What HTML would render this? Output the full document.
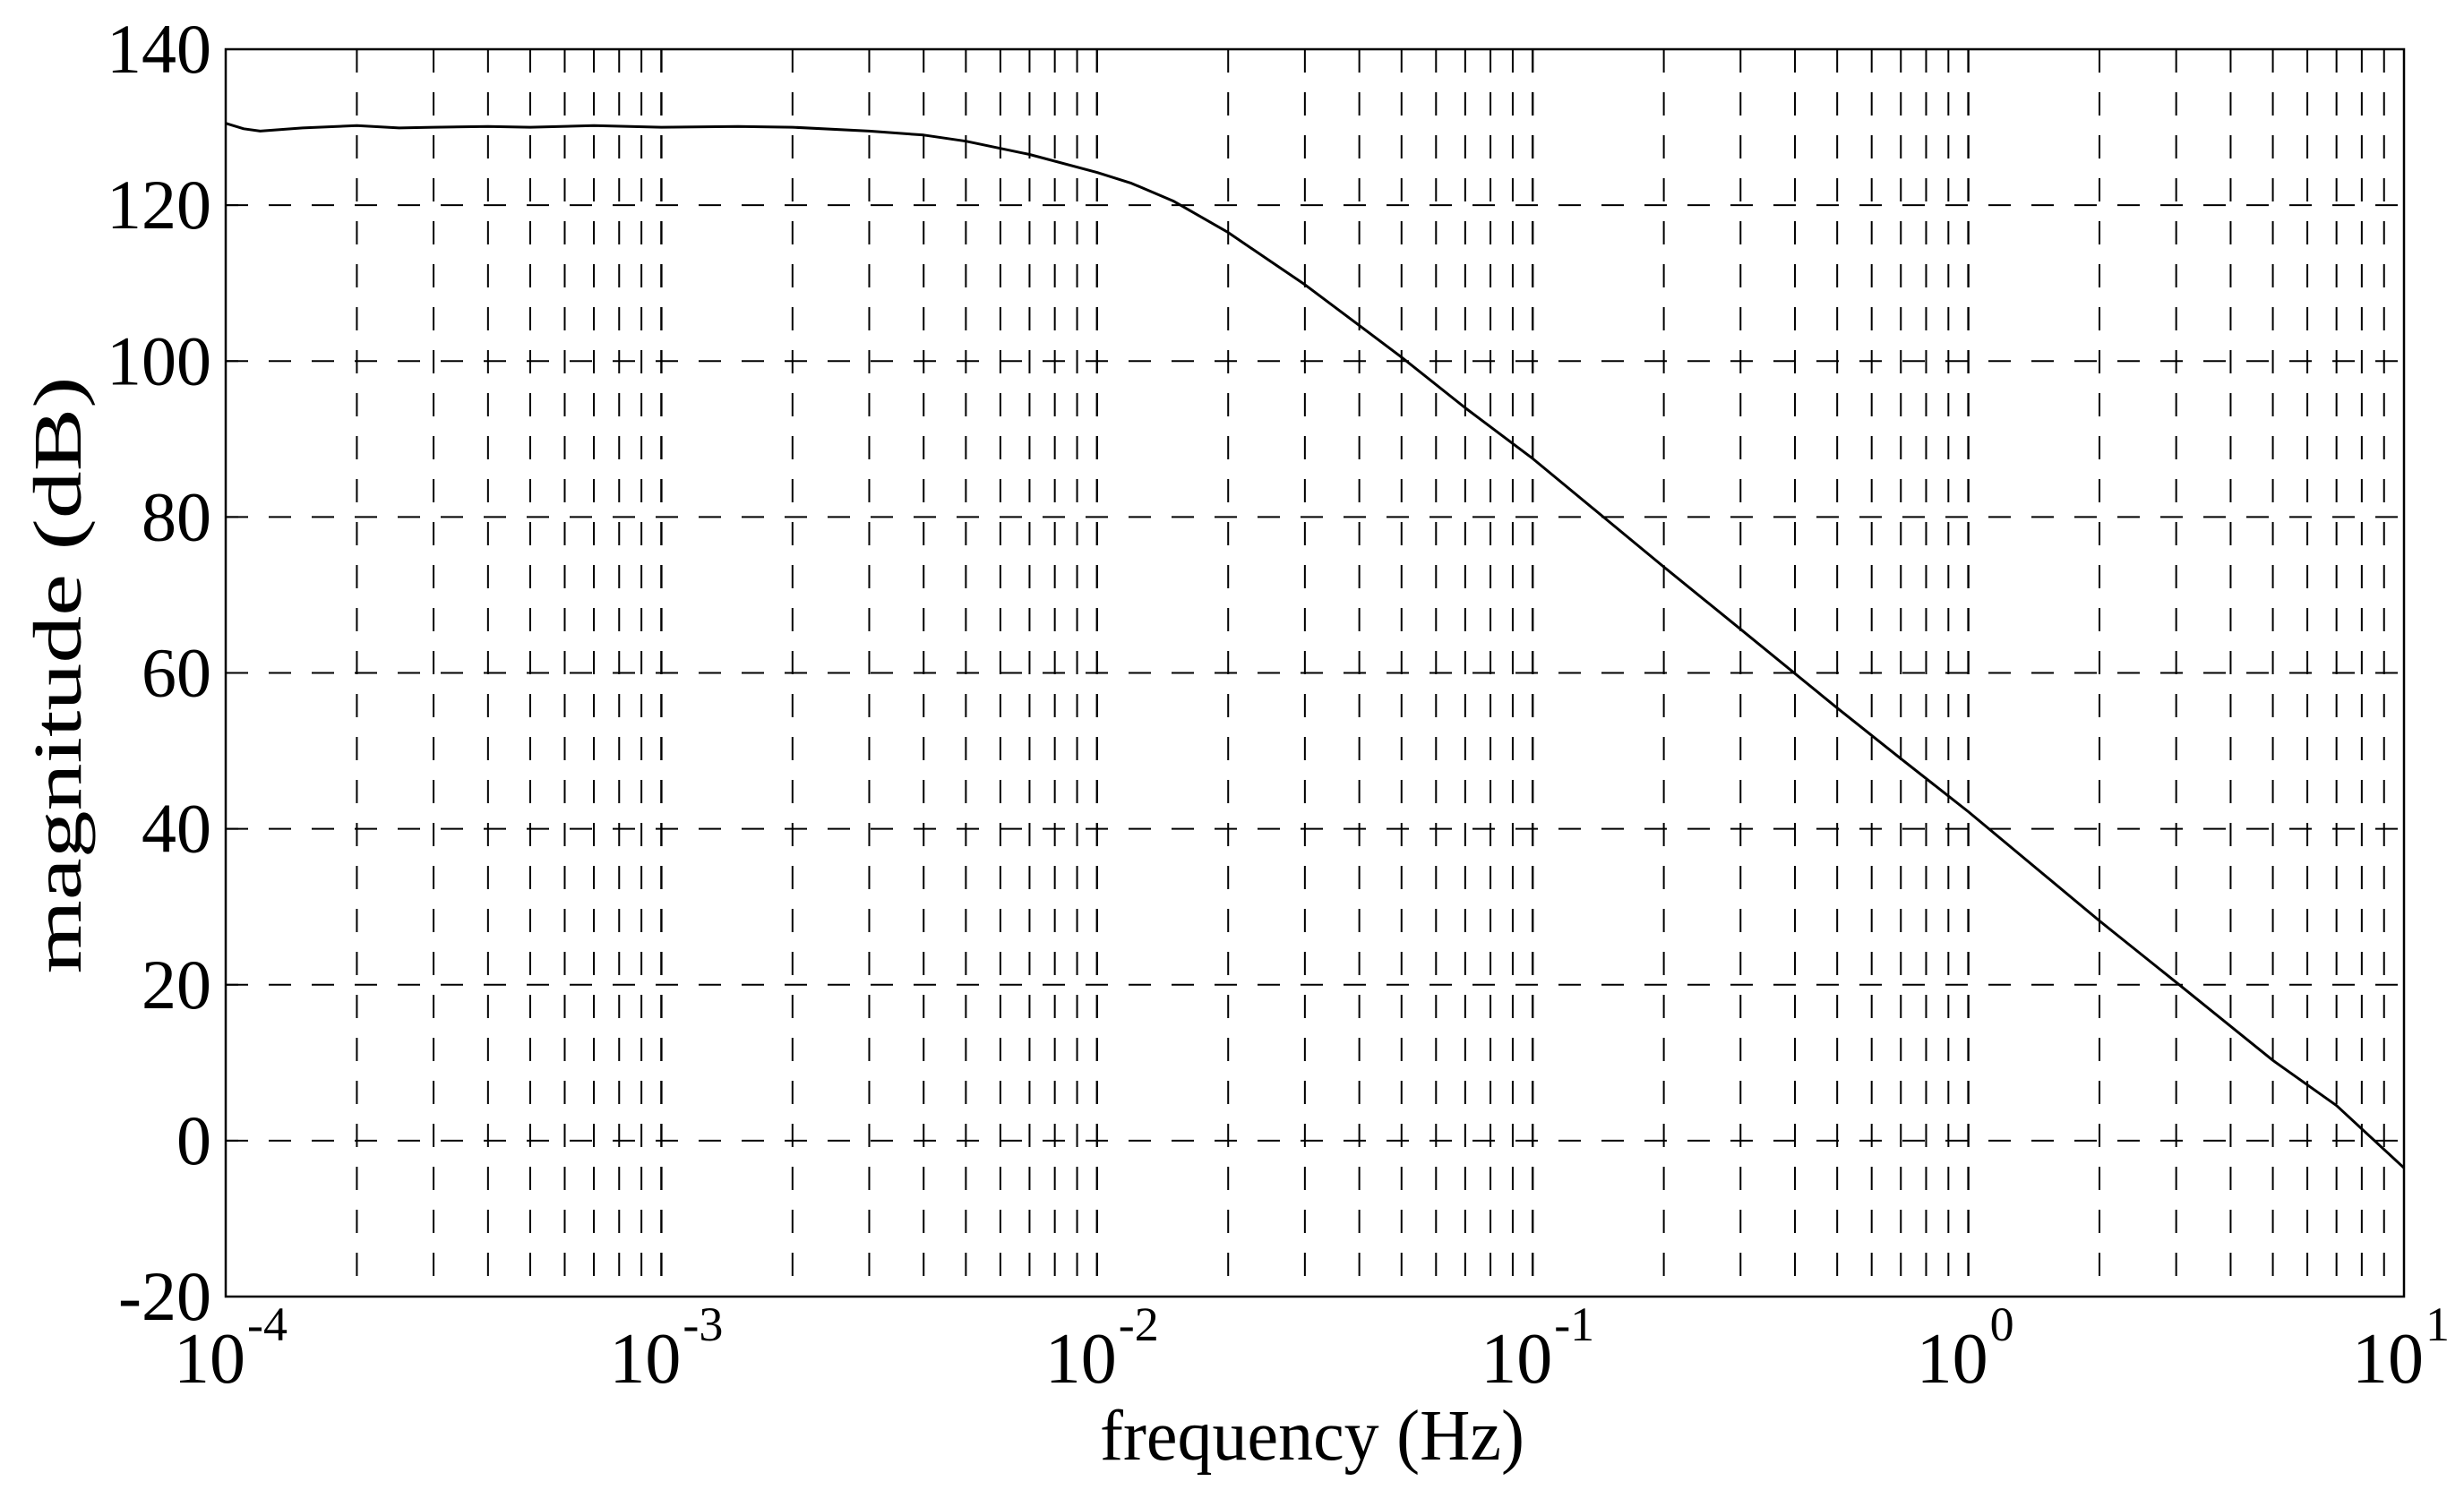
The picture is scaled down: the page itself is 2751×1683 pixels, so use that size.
<!DOCTYPE html>
<html><head><meta charset="utf-8"><style>
html,body{margin:0;padding:0;background:#fff;}
svg text{font-family:"Liberation Serif",serif;fill:#000;}
</style></head><body>
<svg width="2751" height="1678" viewBox="0 0 2751 1678" xmlns="http://www.w3.org/2000/svg">
<rect x="0" y="0" width="2751" height="1678" fill="#fff"/>
<g id="grid"></g>
<g id="series"></g>
<rect x="252" y="55" width="2432" height="1393" fill="none" stroke="#000" stroke-width="2.5"/>
<g id="ticks"></g>
<text x="90" y="754" font-size="76" text-anchor="middle" textLength="667" lengthAdjust="spacingAndGlyphs" transform="rotate(-90 90 754)">magnitude (dB)</text>
<text x="1465" y="1630" font-size="80" text-anchor="middle" textLength="474" lengthAdjust="spacingAndGlyphs">frequency (Hz)</text>
</svg>
<script>
const yTicks=[-20,0,20,40,60,80,100,120,140];
const xDecades=[-4,-3,-2,-1,0,1];
const freq=[1e-4,1.1e-4,1.2e-4,1.5e-4,2e-4,2.5e-4,3e-4,4e-4,5e-4,7e-4,1e-3,1.5e-3,2e-3,3e-3,4e-3,5e-3,7e-3,1e-2,1.2e-2,1.5e-2,2e-2,2.5e-2,3e-2,5e-2,7e-2,0.1,0.2,0.3,0.5,0.7,1,2,3,5,7,10];
const mag=[130.5,129.8,129.5,129.9,130.2,129.9,130,130.1,130,130.2,130,130.1,130,129.5,129,128.2,126.5,124.2,122.8,120.5,116.5,112.8,109.8,100.5,94,87.5,73.6,65.6,55.5,49,42.2,28.2,20.3,10.3,4.5,-3.5];
const L=252,R=2684,T=55,B=1448,xmin=-4,xmax=1,ymin=-20,ymax=140;
const NS='http://www.w3.org/2000/svg';
function xs(f){return L+(Math.log10(f)-xmin)/(xmax-xmin)*(R-L);}
function ys(v){return B-(v-ymin)/(ymax-ymin)*(B-T);}
function mk(tag,attrs,parent){const e=document.createElementNS(NS,tag);for(const k in attrs)e.setAttribute(k,attrs[k]);parent.appendChild(e);return e;}
const grid=document.getElementById('grid'),ticks=document.getElementById('ticks'),series=document.getElementById('series');
yTicks.forEach(v=>{const y=ys(v);
 if(v>ymin&&v<ymax){const g=mk('line',{x1:L,x2:R,y1:y,y2:y,stroke:'#000','stroke-width':2,'stroke-dasharray':'25 23'},grid);
 
 }
 const t=mk('text',{x:236,y:y+26,'font-size':78,'text-anchor':'end'},ticks);t.textContent=String(v);
 
 
 const tk=mk('line',{x1:L,x2:L+14,y1:y,y2:y,stroke:'#000','stroke-width':2},ticks);
 
 
});
xDecades.forEach(d=>{
 for(let m=1;m<=9;m++){ if(d===xmax&&m>1)break; const f=m*Math.pow(10,d); const x=xs(f);
  if(x>L+1&&x<R-1){const g=mk('line',{x1:x,x2:x,y1:T,y2:B,stroke:'#000','stroke-width':m===1?2.4:2,'stroke-dasharray':'26 22'},grid);
  
  }
 }
 const x=xs(Math.pow(10,d));
 const t=mk('text',{x:x-18,y:1544,'font-size':80,'text-anchor':'middle'},ticks);t.textContent='10';
 
 
 const e=mk('text',{x:x+24,y:1497,'font-size':54,'text-anchor':'start'},ticks);e.textContent=String(d);
 
 
});
let dpath='';freq.forEach((f,i)=>{dpath+=(i?'L':'M')+xs(f).toFixed(1)+' '+ys(mag[i]).toFixed(1);});
const p=mk('path',{d:dpath,fill:'none',stroke:'#000','stroke-width':3,'stroke-linejoin':'round'},series);


</script>
</body></html>
